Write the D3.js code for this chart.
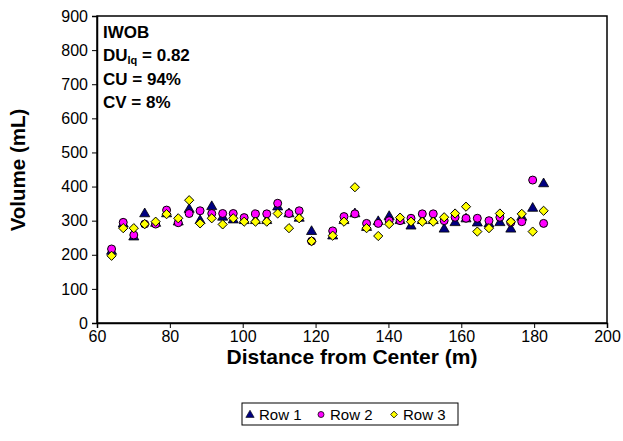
<!DOCTYPE html>
<html>
<head>
<meta charset="utf-8">
<script src="https://cdn.jsdelivr.net/npm/d3@7"></script>
<style>
body { margin: 0; background: #fff; }
text { font-family: Arial, "Liberation Sans", sans-serif; }
</style>
</head>
<body>
<div id="chart"></div>
<script>
// distances (m)
var distance = [64.0, 67.2, 70.1, 73.1, 76.1, 79.1, 82.3, 85.3, 88.3, 91.5, 94.5, 97.4, 100.4, 103.5, 106.6, 109.6, 112.7, 115.5, 118.9,
  124.7, 127.8, 130.8, 134.0, 137.2, 140.2, 143.2, 146.2, 149.3, 152.3, 155.3, 158.3, 161.3, 164.4, 167.6, 170.6, 173.6, 176.6, 179.6, 182.6];

var row1 = [210, 290, 252, 320, 292, 320, 296, 333, 300, 341, 310, 302, 300, 300, 300, 340, 320, 307, 268,
  255, 300, 320, 280, 297, 312, 300, 284, 300, 300, 275, 294, 305, 293, 290, 294, 275, 310, 336, 408];
var row2 = [217, 295, 258, 290, 290, 331, 294, 321, 329, 321, 321, 321, 309, 320, 320, 351, 321, 329, 240,
  270, 312, 320, 292, 292, 300, 300, 307, 320, 320, 300, 310, 307, 307, 300, 310, 295, 297, 419, 292];
var row3 = [197, 278, 278, 290, 297, 319, 307, 360, 292, 307, 289, 307, 297, 297, 297, 321, 278, 307, 240,
  256, 297, 398, 278, 255, 290, 309, 297, 297, 297, 310, 321, 341, 268, 278, 321, 297, 320, 268, 329];

var xTicks = [60, 80, 100, 120, 140, 160, 180, 200];
var yTicks = [0, 100, 200, 300, 400, 500, 600, 700, 800, 900];
var seriesNames = ["Row 1", "Row 2", "Row 3"];
var statLines = ["IWOB", "DU", "CU = 94%", "CV = 8%"];

var w = 623, h = 441;
var svg = d3.select('#chart').append("svg").attr("width", w).attr("height", h);

var x = d3.scaleLinear().domain([60, 200]).range([97, 607]);
var y = d3.scaleLinear().domain([0, 900]).range([323, 16]);

// plot frame
svg.append("rect").attr("x", 97).attr("y", 16).attr("width", 510).attr("height", 307)
  .attr("fill", "none").attr("stroke", "#000").attr("stroke-width", 1.5);

var xAxis = svg.append("g").attr("transform", "translate(0,323)")
  .call(d3.axisBottom(x).tickValues(xTicks).tickSize(5).tickPadding(3));
var yAxis = svg.append("g").attr("transform", "translate(97,0)")
  .call(d3.axisLeft(y).tickValues(yTicks).tickSize(5).tickPadding(4));
[xAxis, yAxis].forEach(function(a){
  a.select(".domain").attr("stroke", "#000").attr("stroke-width", 1.5);
  a.selectAll(".tick line").attr("stroke", "#000");
  a.selectAll("text").attr("font-size", 16).attr("fill", "#000")
    .style("font-family", "Arial, 'Liberation Sans', sans-serif");
});

svg.append("text").attr("x", 352).attr("y", 364).attr("text-anchor", "middle")
  .attr("font-size", 21).attr("font-weight", "bold").text("Distance from Center (m)");
svg.append("text").attr("transform", "translate(25,170) rotate(-90)").attr("text-anchor", "middle")
  .attr("font-size", 20.5).attr("font-weight", "bold").text("Volume (mL)");

// stats box text
var st = svg.append("g").attr("font-size", 17).attr("font-weight", "bold");
st.append("text").attr("x", 103).attr("y", 38).text(statLines[0]);
var du = st.append("text").attr("x", 103).attr("y", 61);
du.append("tspan").text("DU");
du.append("tspan").attr("font-size", 11).attr("dy", 3).text("lq");
du.append("tspan").attr("dy", -3).text(" = 0.82");
st.append("text").attr("x", 103).attr("y", 85).text(statLines[2]);
st.append("text").attr("x", 103).attr("y", 108).text(statLines[3]);

// markers
var tri = d3.symbol().type(d3.symbolTriangle).size(44);
function diamond(r){ return "M0," + (-r) + "L" + r + ",0L0," + r + "L" + (-r) + ",0Z"; }

svg.append("g").selectAll("path").data(row1).join("path")
  .attr("d", tri)
  .attr("transform", function(d, i){ return "translate(" + x(distance[i]) + "," + y(d) + ")"; })
  .attr("fill", "#000080").attr("stroke", "#000").attr("stroke-width", 0.8);

svg.append("g").selectAll("circle").data(row2).join("circle")
  .attr("cx", function(d, i){ return x(distance[i]); })
  .attr("cy", function(d){ return y(d); })
  .attr("r", 4)
  .attr("fill", "#ff00ff").attr("stroke", "#000").attr("stroke-width", 1);

svg.append("g").selectAll("path").data(row3).join("path")
  .attr("d", diamond(4.6))
  .attr("transform", function(d, i){ return "translate(" + x(distance[i]) + "," + y(d) + ")"; })
  .attr("fill", "#ffff00").attr("stroke", "#000").attr("stroke-width", 1);

// legend
var lg = svg.append("g");
lg.append("rect").attr("x", 242).attr("y", 403).attr("width", 216).attr("height", 22)
  .attr("fill", "#fff").attr("stroke", "#000").attr("stroke-width", 1);
var legX = [250, 321, 394];
lg.append("path").attr("d", d3.symbol().type(d3.symbolTriangle).size(30))
  .attr("transform", "translate(" + legX[0] + ",415)").attr("fill", "#000080").attr("stroke", "#000").attr("stroke-width", 0.6);
lg.append("circle").attr("cx", legX[1]).attr("cy", 414.5).attr("r", 3)
  .attr("fill", "#ff00ff").attr("stroke", "#000").attr("stroke-width", 0.8);
lg.append("path").attr("d", diamond(3.4))
  .attr("transform", "translate(" + legX[2] + ",414.5)").attr("fill", "#ffff00").attr("stroke", "#000").attr("stroke-width", 0.8);
lg.selectAll("text.lbl").data(seriesNames).join("text").attr("class", "lbl")
  .attr("x", function(d, i){ return legX[i] + 9; }).attr("y", 420)
  .attr("font-size", 15).text(function(d){ return d; });
</script>
</body>
</html>
